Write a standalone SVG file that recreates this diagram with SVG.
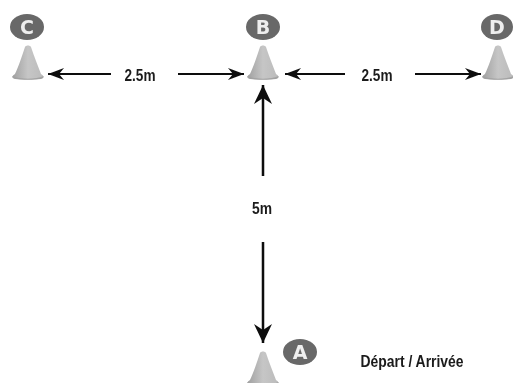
<svg xmlns="http://www.w3.org/2000/svg" width="513" height="383" viewBox="0 0 513 383">
<defs>
<linearGradient id="coneFill" x1="0" y1="0" x2="1" y2="0"><stop offset="0" stop-color="#a0a0a0"/><stop offset="0.5" stop-color="#c6c6c6"/><stop offset="1" stop-color="#bbb"/></linearGradient>
<filter id="soft" x="-10%" y="-10%" width="120%" height="120%"><feGaussianBlur stdDeviation="0.5"/></filter>
<symbol id="cone" overflow="visible"><path d="M-3 1C-6 10-10 22-13 28C-16 30-16 31-15 32C-8 34 8 34 15 32C16 31 16 30 13 28C10 20 6 10 3 1C2-1-2-1-3 1Z" fill="url(#coneFill)"/><path d="M-15.500 30C-8 33.500 8 33.500 15.500 30C15.500 32 15 32.500 13 33C6 34-6 34-13 33C-15 32.500-15.500 32-15.500 30Z" fill="#a2a2a2"/></symbol>
<marker id="head" markerUnits="userSpaceOnUse" markerWidth="18" markerHeight="16" refX="17" refY="8" orient="auto-start-reverse"><path d="M17 8L1 2L6 8L1 14Z" fill="#111"/></marker>
<marker id="headBig" markerUnits="userSpaceOnUse" markerWidth="21" markerHeight="20" refX="20" refY="10" orient="auto-start-reverse"><path d="M20 10L1 1L7 10L1 19Z" fill="#111"/></marker>
</defs>
<style>
.badge{fill:#686868}
.letter{font:bold 19px "DejaVu Sans",sans-serif;fill:#eee;text-anchor:middle}
.label{font-family:"Liberation Sans",sans-serif;font-weight:700;font-size:17px;fill:#1a1a1a;text-anchor:middle}
.line{stroke:#111;fill:none;stroke-width:2}
.linev{stroke:#111;fill:none;stroke-width:2.500}
</style>
<rect width="513" height="383" fill="#fff"/>
<g filter="url(#soft)">
<g id="connectors">
<line class="line" x1="111" y1="74" x2="48" y2="74" marker-end="url(#head)"/>
<line class="line" x1="178" y1="74" x2="244" y2="74" marker-end="url(#head)"/>
<line class="line" x1="345" y1="74" x2="285" y2="74" marker-end="url(#head)"/>
<line class="line" x1="415" y1="74" x2="481" y2="74" marker-end="url(#head)"/>
<line class="linev" x1="263" y1="176" x2="263" y2="85" marker-end="url(#headBig)"/>
<line class="linev" x1="263" y1="242" x2="263" y2="343" marker-end="url(#headBig)"/>
</g>
<g id="node-c"><use href="#cone" x="28" y="46"/><ellipse class="badge" cx="27" cy="27" rx="17" ry="13"/><text class="letter" x="27" y="34">C</text></g>
<g id="node-b"><use href="#cone" x="263" y="46"/><ellipse class="badge" cx="263" cy="27" rx="17" ry="13"/><text class="letter" x="263" y="34">B</text></g>
<g id="node-d"><use href="#cone" x="498" y="46"/><ellipse class="badge" cx="497" cy="27" rx="16" ry="13"/><text class="letter" x="497" y="34">D</text></g>
<g id="node-a"><use href="#cone" x="263" y="352"/><ellipse class="badge" cx="300" cy="352" rx="17" ry="13"/><text class="letter" x="300" y="359">A</text></g>
<g id="labels">
<text class="label" x="140" y="81" textLength="31" lengthAdjust="spacingAndGlyphs">2.5m</text>
<text class="label" x="377" y="81" textLength="31" lengthAdjust="spacingAndGlyphs">2.5m</text>
<text class="label" x="262" y="214" textLength="20" lengthAdjust="spacingAndGlyphs">5m</text>
<text class="label" x="412" y="367" textLength="103" lengthAdjust="spacingAndGlyphs">Départ / Arrivée</text>
</g>
</g>
</svg>
